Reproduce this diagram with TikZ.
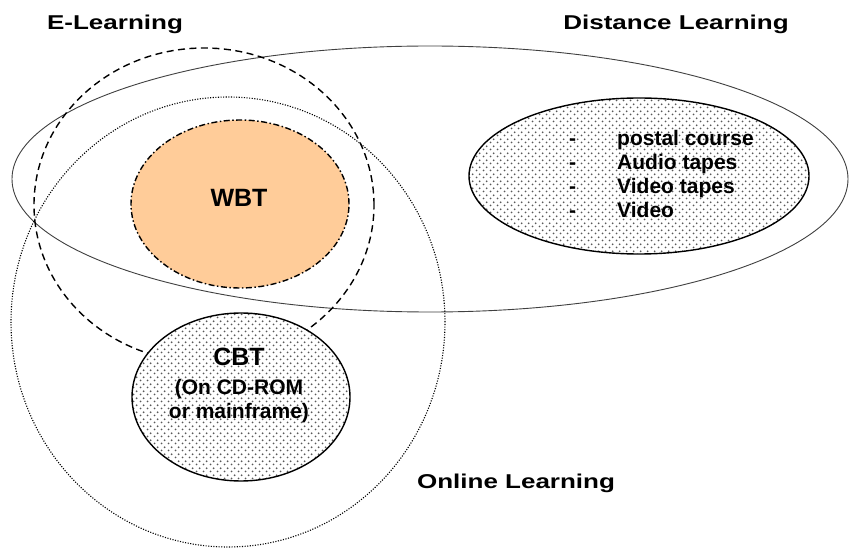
\documentclass[tikz,border=0pt]{standalone}
\usepackage{fontspec}
\setmainfont{Liberation Sans}
\usetikzlibrary{shapes.geometric,patterns}
\pgfdeclarepatternformonly{bigdots}{\pgfpointorigin}{\pgfqpoint{6.6pt}{6.6pt}}{\pgfqpoint{6.6pt}{6.6pt}}{%
  \pgfpathcircle{\pgfqpoint{1.65pt}{1.65pt}}{1.05pt}%
  \pgfpathcircle{\pgfqpoint{4.95pt}{4.95pt}}{1.05pt}%
  \pgfusepath{fill}}
\definecolor{wbtfill}{RGB}{255,204,153}
\tikzset{
 region/.style={ellipse, inner sep=0pt, outer sep=0pt},
 distline/.style={region, draw=black!75, line width=0.9pt},
 eline/.style={region, draw=black, line width=1.4pt, dash pattern=on 7pt off 4.5pt},
 oline/.style={region, draw=black, line width=1.1pt, dash pattern=on 1.1pt off 1.5pt},
 wbtstyle/.style={region, draw=black, fill=wbtfill, line width=1.4pt, dash pattern=on 6pt off 2.5pt on 1.5pt off 2.5pt},
 patregion/.style={region, draw=black, line width=1.4pt, preaction={fill=white}, pattern=bigdots, pattern color=black!65},
 titletext/.style={font=\bfseries\fontsize{20}{24}\selectfont, anchor=base, inner sep=0pt},
 itemtext/.style={font=\bfseries\fontsize{21}{24}\selectfont, inner sep=0pt},
 bigtext/.style={font=\bfseries\fontsize{25}{30}\selectfont, anchor=base, inner sep=0pt},
}
\begin{document}
\begin{tikzpicture}[x=1pt,y=-1pt]
\useasboundingbox[fill=white] (0,0) rectangle (849,553);
% regions
\node[distline, minimum width=836pt, minimum height=266pt] (distance) at (430,179) {};
\node[oline, minimum width=434pt, minimum height=450pt] (online) at (228,322) {};
\node[eline, minimum width=340pt, minimum height=314pt] (elearning) at (204,205) {};
\node[wbtstyle, minimum width=218pt, minimum height=168pt] (wbt) at (240,204) {};
\node[patregion, minimum width=218pt, minimum height=168pt] (cbt) at (241,397) {};
\node[patregion, minimum width=340pt, minimum height=156pt] (media) at (639,176) {};
% titles
\node[titletext] (eltitle) at (115,30) {\scalebox{1.3}[1]{E-Learning}};
\node[titletext] (dltitle) at (676,30) {\scalebox{1.3}[1]{Distance Learning}};
\node[titletext] (oltitle) at (516,488) {\scalebox{1.3}[1]{Online Learning}};
% inner texts
\node[bigtext] (wbtname) at (239,207) {WBT};
\node[bigtext] (cbtname) at (239,366) {CBT};
\node[itemtext, anchor=base] (cbtline1) at (239,395) {(On CD-ROM};
\node[itemtext, anchor=base] (cbtline2) at (239,418) {or mainframe)};
\node[itemtext, anchor=west, align=left] (medialist) at (569,177)
  {\begin{tabular}{@{}l@{\hspace{41pt}}l@{}}-&postal course\\-&Audio tapes\\-&Video tapes\\-&Video\end{tabular}};
\end{tikzpicture}
\end{document}
